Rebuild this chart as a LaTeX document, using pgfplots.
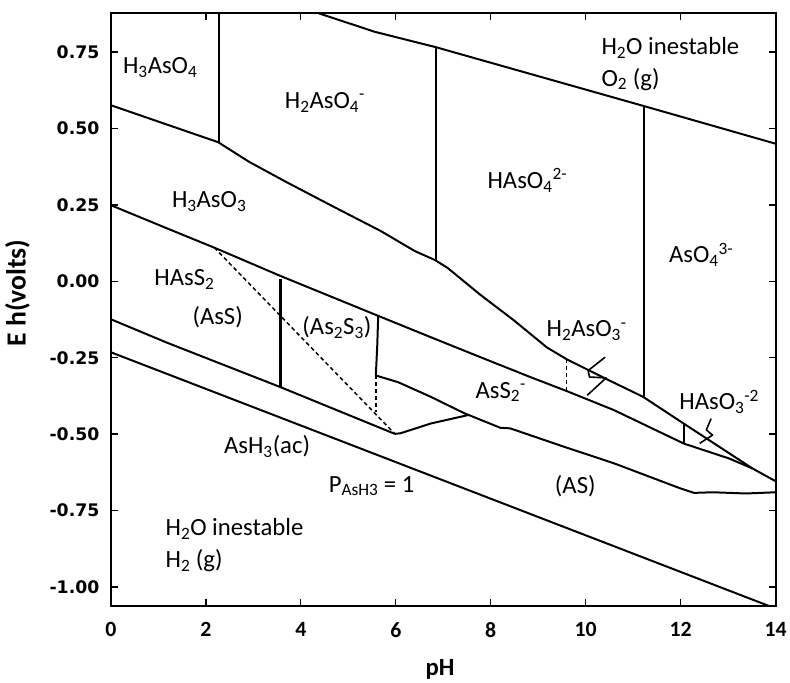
\documentclass[border=0pt]{standalone}
\usepackage{pgfplots}
\pgfplotsset{compat=1.18}
\usepackage{fontspec}
\setmainfont{Carlito}
\newfontfamily\tickfont{DejaVu Sans}
\newcommand\lab{\fontsize{25}{28}\selectfont}

\begin{document}
\begin{tikzpicture}
\begin{axis}[
  width=670bp, height=597.4bp, scale only axis,
  xmin=0, xmax=14, ymin=-1.062, ymax=0.877,
  xtick={0,2,...,14}, xticklabels={0,2,4,6,8,10,12,14},
  ytick={-1,-0.75,-0.5,-0.25,0,0.25,0.5,0.75},
  yticklabels={-1.00,-0.75,-0.50,-0.25,0.00,0.25,0.50,0.75},
  tick align=inside, major tick length=7bp,
  tick style={black, line width=1.4bp},
  axis line style={line width=2bp},
  xticklabel style={font=\fontsize{22}{24}\selectfont\bfseries, yshift=-13bp},
  yticklabel style={font=\tickfont\fontsize{17.5}{20}\selectfont\bfseries, xshift=-8bp},
  xlabel={pH}, ylabel={E h(volts)},
  xlabel style={font=\fontsize{25}{28}\selectfont\bfseries, at={([yshift=-64bp]rel axis cs:0.495,0)}, anchor=center},
  ylabel style={font=\fontsize{28}{30}\selectfont\bfseries, at={([xshift=-94bp]rel axis cs:0,0.528)}, anchor=center},
  every axis plot/.append style={line width=2bp, line join=round},
]
\coordinate (ll) at (rel axis cs:0,0);
\coordinate (ur) at (rel axis cs:1,1);

% water / O2
\addplot[black] coordinates {(4.37,0.877) (5.56,0.816) (6.84,0.766) (11.23,0.573) (14,0.45)};
% water / H2
\addplot[black] coordinates {(0,-0.232) (13.86,-1.062)};

% As(V) verticals
\addplot[black] coordinates {(2.27,0.877) (2.27,0.455)};
\addplot[black] coordinates {(6.84,0.766) (6.84,0.070)};
\addplot[black] coordinates {(11.23,0.573) (11.23,-0.378)};

% As(V)/As(III)
\addplot[black] coordinates {(0,0.576) (2.26,0.455) (2.91,0.391) (3.68,0.326) (4.64,0.248)
  (5.69,0.164) (6.40,0.099) (6.82,0.070) (7.09,0.044) (7.78,-0.044) (8.49,-0.128)
  (9.18,-0.216) (9.60,-0.255) (10.44,-0.320) (11.21,-0.378) (12.07,-0.466)
  (13.51,-0.612) (14,-0.654)};

% As(III) oxide / sulfide
\addplot[black] coordinates {(0,0.249) (1.17,0.174) (2.18,0.110) (3.58,0.017) (5.63,-0.113)
  (6.74,-0.183) (7.78,-0.248) (8.83,-0.313) (9.60,-0.359) (10.59,-0.421)
  (12.07,-0.531) (13.01,-0.579) (13.51,-0.612)};

% sulfide / AsH3
\addplot[black] coordinates {(0,-0.124) (1.17,-0.200) (3.57,-0.346) (5.98,-0.499)};
\addplot[black] coordinates {(5.98,-0.499) (6.10,-0.497) (6.74,-0.465) (7.51,-0.438)};

% AsS2- / (AS)
\addplot[black] coordinates {(5.58,-0.308) (6.05,-0.330) (6.74,-0.378) (7.45,-0.432)
  (8.20,-0.479) (8.41,-0.481) (9.54,-0.541) (10.59,-0.595) (11.97,-0.676)
  (12.28,-0.692) (12.68,-0.690) (13.37,-0.694) (14,-0.690)};

% As2S3 boundary
\addplot[black] coordinates {(5.63,-0.113) (5.61,-0.21) (5.58,-0.308)};
\addplot[black, line width=1.5bp, dash pattern=on 4bp off 3bp] coordinates {(5.58,-0.308) (5.58,-0.427)};
\addplot[black, line width=1.5bp, dash pattern=on 4bp off 3bp] coordinates {(2.18,0.110) (5.98,-0.499)};
\addplot[black, line width=3.5bp] coordinates {(3.57,0.006) (3.57,-0.346)};

% small boundaries
\addplot[black, line width=1.5bp, dash pattern=on 4bp off 3bp] coordinates {(9.60,-0.254) (9.60,-0.359)};
\addplot[black] coordinates {(12.07,-0.465) (12.07,-0.532)};

% pointers
\addplot[black, line width=1.6bp] coordinates {(10.41,-0.248) (10.05,-0.292) (10.08,-0.313) (10.43,-0.316) (10.03,-0.373)};
\addplot[black, line width=1.6bp] coordinates {(12.64,-0.449) (12.54,-0.486) (12.67,-0.503) (12.40,-0.530)};

% labels
\node[font=\lab] at (axis cs:1.04,0.699) {H\textsubscript{3}AsO\textsubscript{4}};
\node[font=\lab] at (axis cs:4.51,0.585) {H\textsubscript{2}AsO\textsubscript{4}\textsuperscript{-}};
\node[font=\lab] at (axis cs:8.77,0.331) {HAsO\textsubscript{4}\textsuperscript{2-}};
\node[font=\lab] at (axis cs:12.43,0.087) {AsO\textsubscript{4}\textsuperscript{3-}};
\node[font=\lab, anchor=west] at (axis cs:10.26,0.764) {H\textsubscript{2}O inestable};
\node[font=\lab, anchor=west] at (axis cs:10.26,0.661) {O\textsubscript{2} (g)};
\node[font=\lab] at (axis cs:2.07,0.260) {H\textsubscript{3}AsO\textsubscript{3}};
\node[font=\lab] at (axis cs:1.55,0.006) {HAsS\textsubscript{2}};
\node[font=\lab] at (axis cs:2.25,-0.118) {(AsS)};
\node[font=\lab] at (axis cs:4.76,-0.151) {(As\textsubscript{2}S\textsubscript{3})};
\node[font=\lab] at (axis cs:8.21,-0.362) {AsS\textsubscript{2}\textsuperscript{-}};
\node[font=\lab] at (axis cs:10.02,-0.162) {H\textsubscript{2}AsO\textsubscript{3}\textsuperscript{-}};
\node[font=\lab] at (axis cs:12.81,-0.394) {HAsO\textsubscript{3}\textsuperscript{-2}};
\node[font=\lab] at (axis cs:3.29,-0.541) {AsH\textsubscript{3}(ac)};
\node[font=\lab] at (axis cs:5.49,-0.670) {P\textsubscript{AsH3} = 1};
\node[font=\lab] at (axis cs:9.78,-0.670) {(AS)};
\node[font=\lab, anchor=west] at (axis cs:1.08,-0.809) {H\textsubscript{2}O inestable};
\node[font=\lab, anchor=west] at (axis cs:1.08,-0.914) {H\textsubscript{2} (g)};
\end{axis}
\path ([shift={(-111.7bp,-70.3bp)}]ll) rectangle ([shift={(8.3bp,13.3bp)}]ur);
\end{tikzpicture}
\end{document}
